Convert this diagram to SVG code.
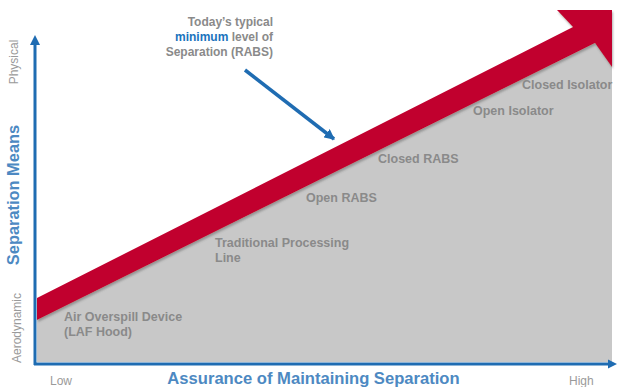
<svg xmlns="http://www.w3.org/2000/svg" width="617" height="387" viewBox="0 0 617 387">
<style>
  .lbl { font-family: "Liberation Sans", Arial, sans-serif; font-weight: bold; font-size: 12.5px; fill: #8a8a8a; }
  .note { font-family: "Liberation Sans", Arial, sans-serif; font-weight: bold; font-size: 12px; fill: #8a8a8a; }
  .ax { font-family: "Liberation Sans", Arial, sans-serif; font-size: 12px; fill: #9a9a9a; }
  .title { font-family: "Liberation Sans", Arial, sans-serif; font-weight: bold; fill: #4d89c2; }
  .axis { stroke: #1f6cb2; stroke-width: 3; fill: none; }
</style>
<defs>
  <marker id="ah" viewBox="0 0 10 10" refX="9" refY="5" markerWidth="3" markerHeight="3" orient="auto" markerUnits="strokeWidth">
    <path d="M0,0 L10,5 L0,10 z" fill="#1f6cb2"/>
  </marker>
  <filter id="sh" x="-5%" y="-5%" width="110%" height="115%">
    <feDropShadow dx="1" dy="2" stdDeviation="1.2" flood-color="#555" flood-opacity="0.45"/>
  </filter>
</defs>
<rect width="617" height="387" fill="#ffffff"/>

<g id="area">
  <polygon points="37,320 595,43 612,60 612,362 37,362" fill="#c8c8c8"/>
</g>
<g id="trend-arrow">
  <polygon points="37,320 37,298 573,27 557,10 612,10 612,67 595,43" fill="#c1062f" filter="url(#sh)"/>
</g>

<g id="connectors">
  <line class="axis" x1="35" y1="365" x2="35" y2="44"/>
  <polygon points="35,35 30,45 40,45" fill="#1f6cb2"/>
  <line class="axis" x1="34" y1="364" x2="609" y2="364"/>
  <polygon points="617,364 608,359.5 608,368.5" fill="#1f6cb2"/>
  <line x1="245" y1="70" x2="334" y2="139" stroke="#1f6cb2" stroke-width="3.5" marker-end="url(#ah)"/>
</g>

<g id="note">
  <text class="note" text-anchor="end" x="273" y="26">Today’s typical</text>
  <text class="note" text-anchor="end" x="273" y="41"><tspan fill="#1a73bd">minimum</tspan> level of</text>
  <text class="note" text-anchor="end" x="273" y="56">Separation (RABS)</text>
</g>

<g id="y-axis-labels">
  <text class="ax" transform="translate(18,62) rotate(-90)" text-anchor="middle">Physical</text>
  <text class="title" font-size="16.4" transform="translate(19,195) rotate(-90)" text-anchor="middle">Separation Means</text>
  <text class="ax" font-size="12.5" transform="translate(21,328) rotate(-90)" text-anchor="middle">Aerodynamic</text>
</g>

<g id="x-axis-labels">
  <text class="ax" font-size="11.5" x="50" y="385">Low</text>
  <text class="title" font-size="16.6" x="313.5" y="384" text-anchor="middle">Assurance of Maintaining Separation</text>
  <text class="ax" font-size="11.5" x="569" y="385">High</text>
</g>

<g id="air-overspill">
  <text class="lbl" x="64" y="321">Air Overspill Device</text>
  <text class="lbl" x="64" y="336">(LAF Hood)</text>
</g>
<g id="traditional">
  <text class="lbl" x="215" y="247">Traditional Processing</text>
  <text class="lbl" x="215" y="262">Line</text>
</g>
<g id="open-rabs">
  <text class="lbl" x="306" y="202">Open RABS</text>
</g>
<g id="closed-rabs">
  <text class="lbl" x="378" y="163">Closed RABS</text>
</g>
<g id="open-isolator">
  <text class="lbl" x="473" y="115">Open Isolator</text>
</g>
<g id="closed-isolator">
  <text class="lbl" x="522" y="89">Closed Isolator</text>
</g>
</svg>
